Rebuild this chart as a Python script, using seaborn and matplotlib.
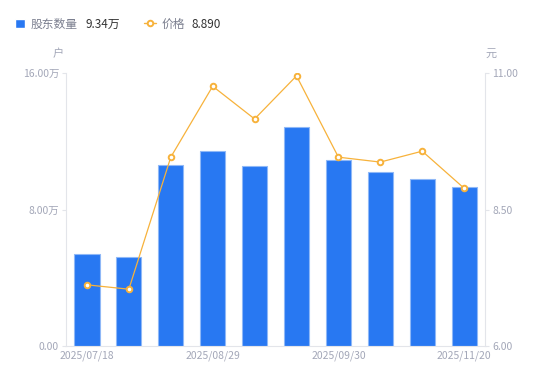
import matplotlib
matplotlib.use("Agg")
import matplotlib.pyplot as plt
from matplotlib.lines import Line2D
from matplotlib.patches import Patch
import seaborn as sns
import pandas as pd

# data
dates = ["2025/07/18", "2025/07/31", "2025/08/20", "2025/08/29", "2025/09/10",
         "2025/09/19", "2025/09/30", "2025/10/20", "2025/10/31", "2025/11/20"]
holders = [5.39, 5.22, 10.61, 11.43, 10.55, 12.84, 10.90, 10.20, 9.79, 9.34]  # 万户
price = [7.12, 7.04, 9.46, 10.76, 10.16, 10.95, 9.46, 9.37, 9.57, 8.89]
shown_dates = ["2025/07/18", "2025/08/29", "2025/09/30", "2025/11/20"]
left_ticks = [0, 8, 16]
left_labels = ["0.00", "8.00万", "16.00万"]
right_ticks = [6.0, 8.5, 11.0]
right_labels = ["6.00", "8.50", "11.00"]

BLUE = "#2878f2"
ORANGE = "#f7b23b"
GRID = "#e3e5ea"
TICK = "#a3a7b8"

sns.set_style("white")
plt.rcParams["font.family"] = ["Noto Sans CJK SC", "DejaVu Sans"]

df = pd.DataFrame({"date": dates, "holders": holders, "price": price})

fig = plt.figure(figsize=(5.5, 3.81), dpi=100)
ax = fig.add_axes([0.12, 0.092, 0.762, 0.716])

sns.barplot(data=df, x="date", y="holders", color=BLUE, width=0.6,
            edgecolor="#8fb8f7", linewidth=0.8, saturation=1, ax=ax)
ax.set_ylim(0, 16)
ax.set_xlim(-0.5, 9.5)
ax.set_yticks(left_ticks)
ax.set_yticklabels(left_labels)
ax.set_xticks([dates.index(d) for d in shown_dates])
ax.set_xticklabels(shown_dates)
ax.set_xlabel("")
ax.set_ylabel("")

ax2 = ax.twinx()
sns.pointplot(data=df, x="date", y="price", color=ORANGE, markers="o",
              linewidth=0.9, markersize=4, markerfacecolor="white",
              markeredgewidth=1.4, ax=ax2)
ax2.set_ylim(6, 11)
ax2.set_xlim(-0.5, 9.5)
ax2.set_yticks(right_ticks)
ax2.set_yticklabels(right_labels)
ax2.set_ylabel("")
ax2.set_xlabel("")

for a in (ax, ax2):
    for s in a.spines.values():
        s.set_visible(False)
    a.tick_params(axis="both", colors=GRID, labelcolor=TICK, labelsize=7.5,
                  length=3, width=0.8, pad=2)
ax.spines["left"].set_visible(True)
ax.spines["left"].set_color(GRID)
ax.spines["bottom"].set_visible(True)
ax.spines["bottom"].set_color(GRID)
ax2.spines["right"].set_visible(True)
ax2.spines["right"].set_color(GRID)
ax.tick_params(axis="x", length=0, pad=3)
ax2.tick_params(axis="x", length=0)

fig.text(0.115, 0.85, "户", color=TICK, fontsize=8, ha="right")
fig.text(0.882, 0.85, "元", color=TICK, fontsize=8, ha="left")

# legend
sq = Patch(facecolor=BLUE)
ln = Line2D([], [], color=ORANGE, marker="o", markerfacecolor="white",
            markersize=4, markeredgewidth=1.4, lw=1)
fig.text(0.055, 0.937, "股东数量", color="#7b7f8f", fontsize=8.5, va="center")
fig.text(0.155, 0.937, "9.34万", color="#333333", fontsize=8.5, va="center")
fig.text(0.293, 0.937, "价格", color="#7b7f8f", fontsize=8.5, va="center")
fig.text(0.349, 0.937, "8.890", color="#333333", fontsize=8.5, va="center")
leg = fig.legend(handles=[sq], labels=[""], loc="center left",
                 bbox_to_anchor=(0.028, 0.937), frameon=False, prop={"size": 8},
                 handlelength=0.85, handleheight=0.85, borderpad=0,
                 borderaxespad=0, handletextpad=0)
leg2 = fig.legend(handles=[ln], labels=[""], loc="center left",
                  bbox_to_anchor=(0.262, 0.937), frameon=False, prop={"size": 8},
                  handlelength=1.1, borderpad=0, borderaxespad=0,
                  handletextpad=0)
fig.add_artist(leg)

fig.savefig("out.png", dpi=100)
